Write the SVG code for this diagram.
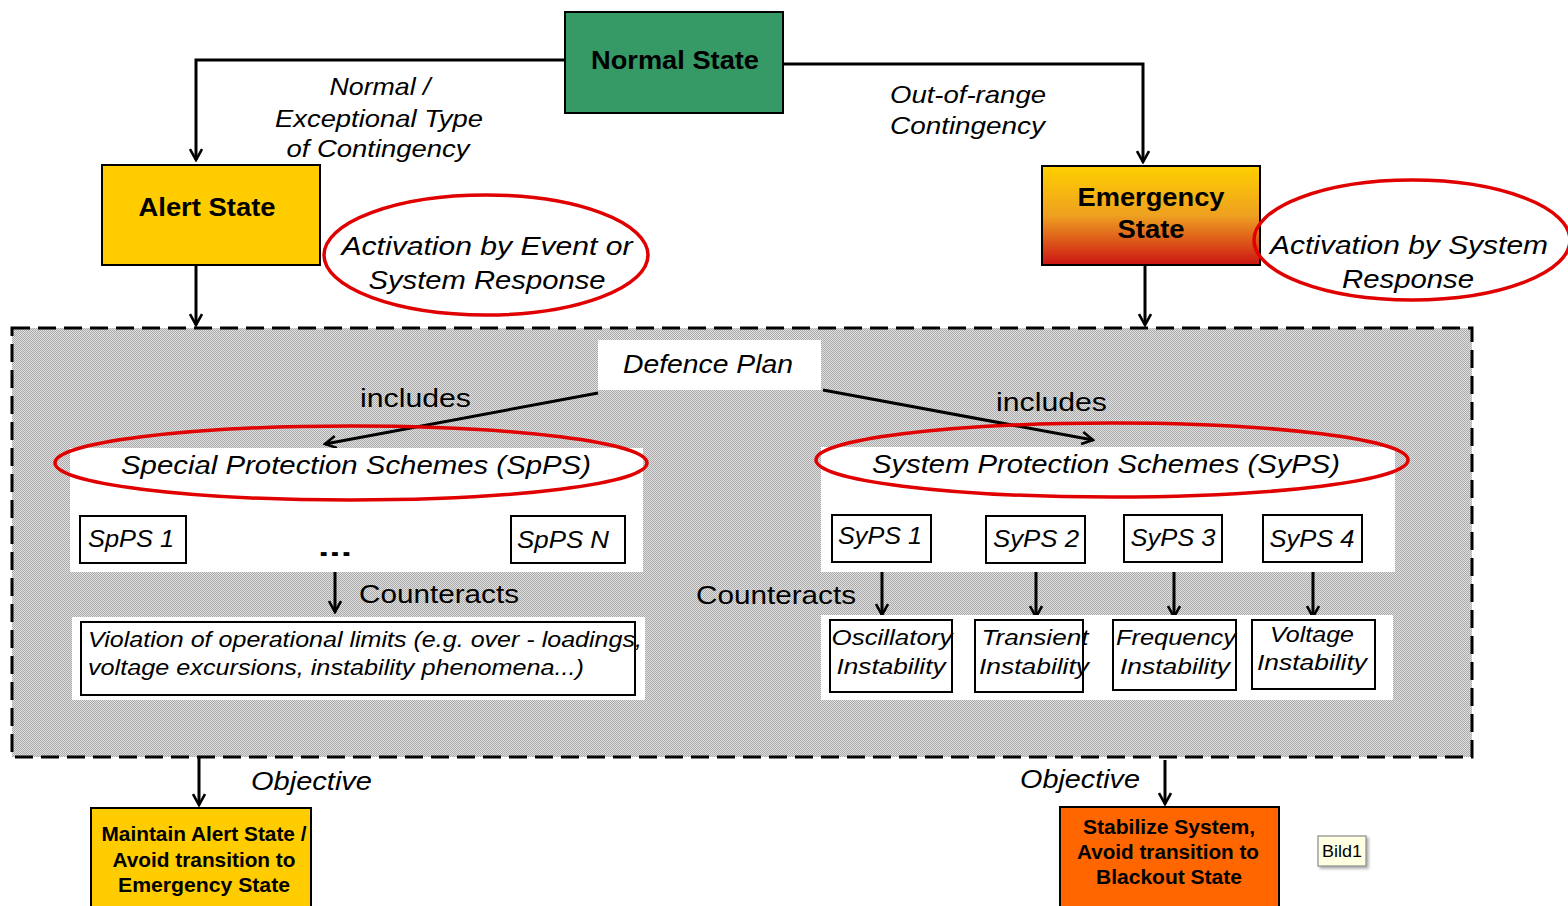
<svg xmlns="http://www.w3.org/2000/svg" width="1568" height="906" viewBox="0 0 1568 906">
  <defs>
    <style>
      text { font-family: "Liberation Sans", Arial, sans-serif; fill: #000; }
      .b { font-weight: bold; }
      .i { font-style: italic; }
      .box { stroke: #000; stroke-width: 2; }
      .wbox { fill: #fff; stroke: #000; stroke-width: 2; }
      .pane { fill: #fff; }
      .ring { fill: none; stroke: #e00000; stroke-width: 3.5; }
      .wire { fill: none; stroke: #000; stroke-width: 3; }
    </style>
    <marker id="arrow" viewBox="0 0 14 14" refX="12" refY="7" markerWidth="14" markerHeight="14" markerUnits="userSpaceOnUse" orient="auto">
      <polyline points="1,1 12,7 1,13" fill="none" stroke="#000" stroke-width="2.6"/>
    </marker>
    <pattern id="hatch" width="2" height="2" patternUnits="userSpaceOnUse">
      <rect width="2" height="2" fill="#e2e2e2"/>
      <rect width="1" height="1" fill="#a8a8a8"/>
      <rect x="1" y="1" width="1" height="1" fill="#a8a8a8"/>
    </pattern>
    <linearGradient id="emerg" x1="0" y1="0" x2="0" y2="1">
      <stop offset="0" stop-color="#ffd000"/>
      <stop offset="0.5" stop-color="#eea020"/>
      <stop offset="1" stop-color="#cc1414"/>
    </linearGradient>
    <filter id="shadow" x="-20%" y="-20%" width="150%" height="150%">
      <feDropShadow dx="2" dy="2" stdDeviation="1.5" flood-color="#000" flood-opacity="0.35"/>
    </filter>
  </defs>

  <!-- defence plan frame -->
  <g id="defence-plan">
    <rect x="12" y="328" width="1460" height="429" fill="url(#hatch)" stroke="#000" stroke-width="3" stroke-dasharray="18 8"/>
    <rect class="pane" x="598" y="340" width="223" height="50"/>
    <text class="i" x="708" y="373" font-size="26" text-anchor="middle" textLength="170" lengthAdjust="spacingAndGlyphs">Defence Plan</text>
  </g>

  <!-- connectors -->
  <g id="connectors">
    <polyline class="wire" points="565,60 196,60 196,160" marker-end="url(#arrow)"/>
    <polyline class="wire" points="783,64 1143,64 1143,162" marker-end="url(#arrow)"/>
    <line class="wire" x1="196" y1="265" x2="196" y2="325" marker-end="url(#arrow)"/>
    <line class="wire" x1="1145" y1="265" x2="1145" y2="325" marker-end="url(#arrow)"/>
    <line class="wire" x1="598" y1="393" x2="325" y2="444" marker-end="url(#arrow)"/>
    <line class="wire" x1="823" y1="390" x2="1093" y2="440" marker-end="url(#arrow)"/>
    <line class="wire" x1="335" y1="557" x2="335" y2="612" marker-end="url(#arrow)"/>
    <line class="wire" x1="882" y1="562" x2="882" y2="615" marker-end="url(#arrow)"/>
    <line class="wire" x1="1036" y1="565" x2="1036" y2="617" marker-end="url(#arrow)"/>
    <line class="wire" x1="1174" y1="565" x2="1174" y2="617" marker-end="url(#arrow)"/>
    <line class="wire" x1="1313" y1="565" x2="1313" y2="617" marker-end="url(#arrow)"/>
    <line class="wire" x1="199" y1="758" x2="199" y2="805" marker-end="url(#arrow)"/>
    <line class="wire" x1="1165" y1="760" x2="1165" y2="804" marker-end="url(#arrow)"/>
  </g>

  <!-- connector labels -->
  <g id="labels">
    <text class="i" x="380" y="95" font-size="24" text-anchor="middle" textLength="101" lengthAdjust="spacingAndGlyphs">Normal /</text>
    <text class="i" x="379" y="127" font-size="24" text-anchor="middle" textLength="208" lengthAdjust="spacingAndGlyphs">Exceptional Type</text>
    <text class="i" x="378" y="157" font-size="24" text-anchor="middle" textLength="183" lengthAdjust="spacingAndGlyphs">of Contingency</text>
    <text class="i" x="890" y="103" font-size="24" textLength="156" lengthAdjust="spacingAndGlyphs">Out-of-range</text>
    <text class="i" x="890" y="134" font-size="24" textLength="155" lengthAdjust="spacingAndGlyphs">Contingency</text>
    <text x="360" y="407" font-size="26" textLength="111" lengthAdjust="spacingAndGlyphs">includes</text>
    <text x="996" y="411" font-size="26" textLength="111" lengthAdjust="spacingAndGlyphs">includes</text>
    <text x="359" y="603" font-size="26" textLength="160" lengthAdjust="spacingAndGlyphs">Counteracts</text>
    <text x="696" y="604" font-size="26" textLength="160" lengthAdjust="spacingAndGlyphs">Counteracts</text>
    <text class="i" x="251" y="790" font-size="26" textLength="121" lengthAdjust="spacingAndGlyphs">Objective</text>
    <text class="i" x="1020" y="788" font-size="26" textLength="120" lengthAdjust="spacingAndGlyphs">Objective</text>
  </g>

  <!-- states -->
  <g id="normal-state">
    <rect class="box" x="565" y="12" width="218" height="101" fill="#359a66"/>
    <text class="b" x="675" y="69" font-size="26" text-anchor="middle" textLength="168" lengthAdjust="spacingAndGlyphs">Normal State</text>
  </g>
  <g id="alert-state">
    <rect class="box" x="102" y="165" width="218" height="100" fill="#ffcc00"/>
    <text class="b" x="207" y="216" font-size="26" text-anchor="middle" textLength="137" lengthAdjust="spacingAndGlyphs">Alert State</text>
  </g>
  <g id="emergency-state">
    <rect class="box" x="1042" y="166" width="218" height="99" fill="url(#emerg)"/>
    <text class="b" x="1151" y="206" font-size="26" text-anchor="middle" textLength="147" lengthAdjust="spacingAndGlyphs">Emergency</text>
    <text class="b" x="1151" y="238" font-size="26" text-anchor="middle" textLength="67" lengthAdjust="spacingAndGlyphs">State</text>
  </g>

  <!-- activation notes -->
  <g id="activation-event">
    <ellipse class="ring" cx="486" cy="255" rx="162" ry="60"/>
    <text class="i" x="487" y="255" font-size="26" text-anchor="middle" textLength="291" lengthAdjust="spacingAndGlyphs">Activation  by Event or</text>
    <text class="i" x="487" y="289" font-size="26" text-anchor="middle" textLength="237" lengthAdjust="spacingAndGlyphs">System Response</text>
  </g>
  <g id="activation-system">
    <ellipse class="ring" cx="1412" cy="240" rx="158" ry="60"/>
    <text class="i" x="1409" y="254" font-size="26" text-anchor="middle" textLength="278" lengthAdjust="spacingAndGlyphs">Activation  by System</text>
    <text class="i" x="1408" y="288" font-size="26" text-anchor="middle" textLength="132" lengthAdjust="spacingAndGlyphs">Response</text>
  </g>

  <!-- special protection schemes -->
  <g id="spps">
    <rect class="pane" x="70" y="448" width="573" height="124"/>
    <ellipse class="ring" cx="351" cy="463" rx="296" ry="37"/>
    <text class="i" x="356" y="474" font-size="26" text-anchor="middle" textLength="470" lengthAdjust="spacingAndGlyphs">Special Protection Schemes (SpPS)</text>
  </g>
  <g id="spps-1">
    <rect class="wbox" x="80" y="516" width="106" height="47"/>
    <text class="i" x="88" y="547" font-size="24" textLength="86" lengthAdjust="spacingAndGlyphs">SpPS 1</text>
  </g>
  <g id="spps-n">
    <rect class="wbox" x="511" y="516" width="114" height="47"/>
    <text class="i" x="517" y="548" font-size="24" textLength="92" lengthAdjust="spacingAndGlyphs">SpPS N</text>
  </g>
  <g id="spps-more">
    <text class="b" x="335" y="556" font-size="26" text-anchor="middle" textLength="34" lengthAdjust="spacingAndGlyphs">...</text>
  </g>
  <g id="operational-limits">
    <rect class="pane" x="72" y="617" width="573" height="83"/>
    <rect class="wbox" x="81" y="622" width="554" height="73"/>
    <text class="i" x="88" y="647" font-size="22" textLength="554" lengthAdjust="spacingAndGlyphs">Violation of operational limits (e.g. over - loadings,</text>
    <text class="i" x="88" y="675" font-size="22" textLength="496" lengthAdjust="spacingAndGlyphs">voltage excursions, instability phenomena...)</text>
  </g>

  <!-- system protection schemes -->
  <g id="syps">
    <rect class="pane" x="821" y="447" width="574" height="125"/>
    <ellipse class="ring" cx="1112" cy="460" rx="296" ry="37"/>
    <text class="i" x="1106" y="473" font-size="26" text-anchor="middle" textLength="468" lengthAdjust="spacingAndGlyphs">System Protection Schemes (SyPS)</text>
  </g>
  <g id="syps-1">
    <rect class="wbox" x="832" y="515" width="99" height="47"/>
    <text class="i" x="880" y="544" font-size="24" text-anchor="middle" textLength="84" lengthAdjust="spacingAndGlyphs">SyPS 1</text>
  </g>
  <g id="syps-2">
    <rect class="wbox" x="986" y="516" width="99" height="47"/>
    <text class="i" x="1036" y="547" font-size="24" text-anchor="middle" textLength="86" lengthAdjust="spacingAndGlyphs">SyPS 2</text>
  </g>
  <g id="syps-3">
    <rect class="wbox" x="1124" y="515" width="98" height="47"/>
    <text class="i" x="1173" y="546" font-size="24" text-anchor="middle" textLength="85" lengthAdjust="spacingAndGlyphs">SyPS 3</text>
  </g>
  <g id="syps-4">
    <rect class="wbox" x="1263" y="515" width="99" height="47"/>
    <text class="i" x="1312" y="547" font-size="24" text-anchor="middle" textLength="85" lengthAdjust="spacingAndGlyphs">SyPS 4</text>
  </g>
  <g id="instabilities-pane">
    <rect class="pane" x="821" y="615" width="572" height="85"/>
  </g>
  <g id="oscillatory">
    <rect class="wbox" x="830" y="620" width="122" height="72"/>
    <text class="i" x="892" y="645" font-size="22" text-anchor="middle" textLength="121" lengthAdjust="spacingAndGlyphs">Oscillatory</text>
    <text class="i" x="891" y="674" font-size="22" text-anchor="middle" textLength="109" lengthAdjust="spacingAndGlyphs">Instability</text>
  </g>
  <g id="transient">
    <rect class="wbox" x="975" y="620" width="108" height="72"/>
    <text class="i" x="1035" y="645" font-size="22" text-anchor="middle" textLength="107" lengthAdjust="spacingAndGlyphs">Transient</text>
    <text class="i" x="1034" y="674" font-size="22" text-anchor="middle" textLength="110" lengthAdjust="spacingAndGlyphs">Instability</text>
  </g>
  <g id="frequency">
    <rect class="wbox" x="1113" y="620" width="123" height="70"/>
    <text class="i" x="1176" y="645" font-size="22" text-anchor="middle" textLength="120" lengthAdjust="spacingAndGlyphs">Frequency</text>
    <text class="i" x="1175" y="674" font-size="22" text-anchor="middle" textLength="110" lengthAdjust="spacingAndGlyphs">Instability</text>
  </g>
  <g id="voltage">
    <rect class="wbox" x="1252" y="620" width="123" height="69"/>
    <text class="i" x="1312" y="642" font-size="22" text-anchor="middle" textLength="84" lengthAdjust="spacingAndGlyphs">Voltage</text>
    <text class="i" x="1312" y="670" font-size="22" text-anchor="middle" textLength="110" lengthAdjust="spacingAndGlyphs">Instability</text>
  </g>

  <!-- objectives -->
  <g id="objective-alert">
    <rect class="box" x="91" y="808" width="220" height="102" fill="#ffcc00"/>
    <text class="b" x="204" y="841" font-size="20" text-anchor="middle" textLength="205" lengthAdjust="spacingAndGlyphs">Maintain Alert State /</text>
    <text class="b" x="204" y="867" font-size="20" text-anchor="middle" textLength="183" lengthAdjust="spacingAndGlyphs">Avoid transition to</text>
    <text class="b" x="204" y="892" font-size="20" text-anchor="middle" textLength="172" lengthAdjust="spacingAndGlyphs">Emergency State</text>
  </g>
  <g id="objective-emergency">
    <rect class="box" x="1060" y="807" width="219" height="103" fill="#ff6600"/>
    <text class="b" x="1169" y="834" font-size="20" text-anchor="middle" textLength="172" lengthAdjust="spacingAndGlyphs">Stabilize System,</text>
    <text class="b" x="1168" y="859" font-size="20" text-anchor="middle" textLength="182" lengthAdjust="spacingAndGlyphs">Avoid transition to</text>
    <text class="b" x="1169" y="884" font-size="20" text-anchor="middle" textLength="146" lengthAdjust="spacingAndGlyphs">Blackout State</text>
  </g>

  <!-- picture tag -->
  <g id="bild1">
    <rect x="1318" y="836" width="48" height="30" fill="#ffffe1" stroke="#8a8a8a" stroke-width="1.2" filter="url(#shadow)"/>
    <text x="1342" y="857" font-size="17" text-anchor="middle" textLength="40" lengthAdjust="spacingAndGlyphs">Bild1</text>
  </g>
</svg>
